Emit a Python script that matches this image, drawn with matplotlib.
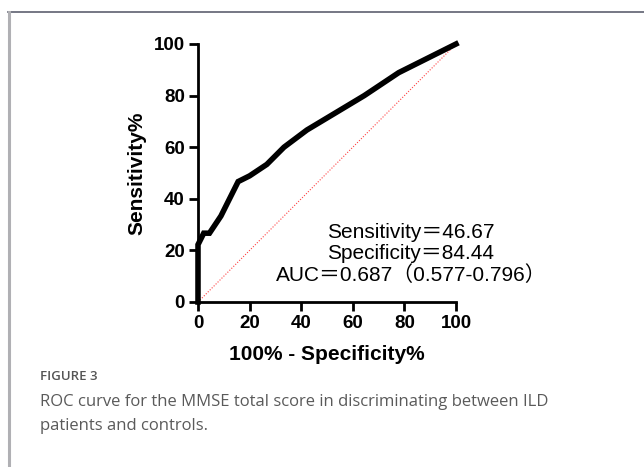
import numpy as np
import matplotlib
matplotlib.use('Agg')
import matplotlib.pyplot as plt
from matplotlib.lines import Line2D

# ROC points (100% - specificity, sensitivity)
fpr = [0, 0, 2.22, 4.44, 8.89, 11.11, 15.56, 20.0, 26.67, 33.33, 42.22, 53.33, 64.44, 77.78, 100]
tpr = [0, 22.22, 26.67, 26.67, 33.33, 37.78, 46.67, 48.89, 53.33, 60.0, 66.67, 73.33, 80.0, 88.89, 100]
ref_line = [0, 100]
ticks = [0, 20, 40, 60, 80, 100]
stats_text = ['Sensitivity\uff1d46.67', 'Specificity\uff1d84.44', 'AUC\uff1d0.687\uff080.577-0.796\uff09']

plt.rcParams['font.family'] = ['Liberation Sans', 'DejaVu Sans']

fig = plt.figure(figsize=(6.44, 4.67), dpi=100)

# frame of the figure panel
fig.add_artist(Line2D([8/644, 1], [1-12/467, 1-12/467], transform=fig.transFigure, color='#5d6070', lw=1.2))
fig.add_artist(Line2D([8.5/644, 8.5/644], [0, 1-12/467], transform=fig.transFigure, color='#b0b0b4', lw=2.2))

ax = fig.add_axes([198/644, 1-302/467, (456-198)/644, (302-44)/467])
ax.plot(ref_line, ref_line, color='#ff4040', lw=0.8, ls=(0, (1, 1.5)), clip_on=False)
ax.plot(fpr, tpr, color='black', lw=4, solid_joinstyle='miter', clip_on=False, zorder=3)

ax.set_xlim(0, 100)
ax.set_ylim(0, 100)
ax.set_xticks(ticks)
ax.set_yticks(ticks)
for s in ['top', 'right']:
    ax.spines[s].set_visible(False)
for s in ['left', 'bottom']:
    ax.spines[s].set_linewidth(2)
ax.tick_params(width=2, length=6.5, labelsize=13.5, pad=3)
for lab in ax.get_xticklabels() + ax.get_yticklabels():
    lab.set_fontweight('bold')

ax.set_xlabel('100% - Specificity%', fontsize=15, fontweight='bold', labelpad=9)
ax.set_ylabel('Sensitivity%', fontsize=15, fontweight='bold', labelpad=5)

for i, t in enumerate(stats_text):
    fig.text(411/644, 1-(232+21.5*i)/467, t, ha='center', va='center', fontsize=15,
             family=['Liberation Sans', 'Noto Sans CJK SC'])

fig.text(40/644, 1-377/467, 'FIGURE 3', fontsize=9.5, color='#555555', va='center',
         family='Open Sans', fontweight='semibold')
fig.text(40/644, 1-402/467, 'ROC curve for the MMSE total score in discriminating between ILD',
         fontsize=12, color='#5a5a5a', va='center', family='Open Sans')
fig.text(40/644, 1-426/467, 'patients and controls.',
         fontsize=12, color='#5a5a5a', va='center', family='Open Sans')

fig.savefig('out.png', dpi=100)
